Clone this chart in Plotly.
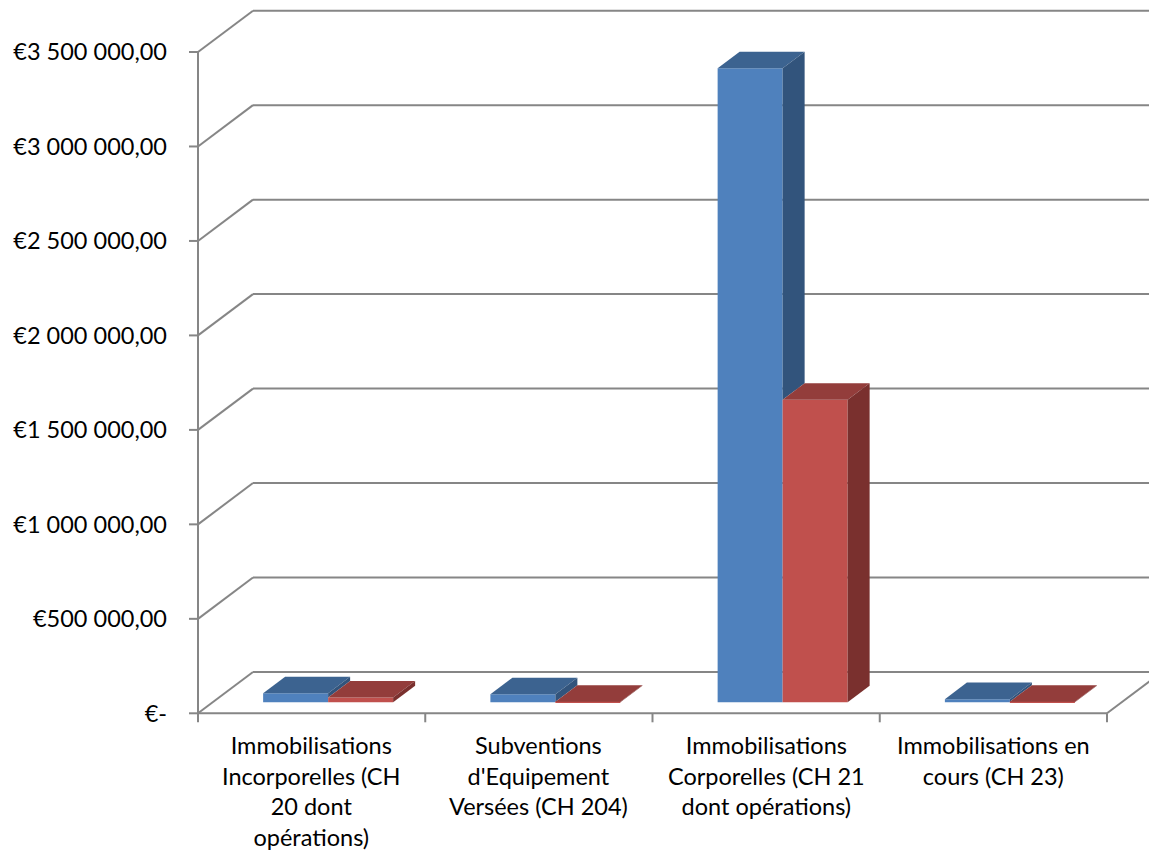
import plotly.graph_objects as go

# ---- data -------------------------------------------------------------
categories = [
    "Immobilisations<br>Incorporelles (CH<br>20 dont<br>opérations)",
    "Subventions<br>d'Equipement<br>Versées (CH 204)",
    "Immobilisations<br>Corporelles (CH 21<br>dont opérations)",
    "Immobilisations en<br>cours (CH 23)",
]
serie_1 = [47000, 42000, 3355000, 16000]
serie_2 = [24000, 1500, 1600000, 2500]
y_ticks = [0, 500000, 1000000, 1500000, 2000000, 2500000, 3000000, 3500000]
y_tick_text = ["€-", "€500 000,00", "€1 000 000,00", "€1 500 000,00",
               "€2 000 000,00", "€2 500 000,00", "€3 000 000,00", "€3 500 000,00"]

# ---- styling / projection settings -----------------------------------------
W_FIG, H_FIG = 1149, 859
LEFT = 180                 # left margin (px) for the value labels
X_ORIGIN_PX = 198          # pixel of the front-left wall corner
Y_ZERO_PX = 713.3          # pixel of the front floor edge
PX_PER_CAT = 227.25
PX_PER_VAL = 661.3 / 3.5e6

DX = 55 / PX_PER_CAT       # oblique depth of the floor, x units
DY = 41.3 / PX_PER_VAL     # oblique depth of the floor, value units
BAR_W = 65 / PX_PER_CAT
BAR_DX = 0.4 * DX
BAR_DY = 0.4 * DY
BAR_SHIFT = 0.3 * DX
BAR_BASE = 0.27 * DY

GRID = "#868686"
FONT = "Lato"
series_colors = [
    dict(front="#4F81BD", top="#3C6390", side="#32547C"),
    dict(front="#C0504D", top="#933D3B", side="#7A302E"),
]

x_lo = -0.5 - (X_ORIGIN_PX - LEFT) / PX_PER_CAT
x_hi = -0.5 + (W_FIG - X_ORIGIN_PX) / PX_PER_CAT
y_hi = Y_ZERO_PX / PX_PER_VAL
y_lo = -(H_FIG - Y_ZERO_PX) / PX_PER_VAL

n = len(categories)
fig = go.Figure()

# ---- walls, floor and tick marks (drawn under the bars) ----------------
shapes = []


def seg(x0, y0, x1, y1):
    shapes.append(dict(type="line", xref="x", yref="y", x0=x0, y0=y0, x1=x1, y1=y1,
                       line=dict(color=GRID, width=2), layer="below"))


left = -0.5
right = n - 0.5
tick_len_x = 9 / PX_PER_CAT
tick_len_y = 9 / PX_PER_VAL
for v in y_ticks:
    seg(left, v, left + DX, v + DY)                 # side wall
    seg(left + DX, v + DY, right + DX + 1, v + DY)   # back wall
    seg(left - tick_len_x, v, left, v)              # value tick
seg(left, 0, left, y_ticks[-1])                     # front vertical edge
seg(left, 0, right, 0)                              # front floor edge
seg(right, 0, right + DX, DY)                       # right floor edge
for k in range(n + 1):
    seg(left + k, 0, left + k, -tick_len_y)         # category ticks

# ---- bars -------------------------------------------------------------
series = [serie_1, serie_2]
for j, vals in enumerate(series):
    xs = [i + BAR_SHIFT + (j - 0.5) * BAR_W for i in range(n)]
    fig.add_trace(go.Bar(
        x=xs, y=vals, base=[BAR_BASE] * n, width=BAR_W,
        marker=dict(color=series_colors[j]["front"], line=dict(width=0)),
        name=f"Série {j + 1}", hoverinfo="skip",
    ))


def poly(pts_x, pts_y, color):
    fig.add_trace(go.Scatter(x=pts_x, y=pts_y, mode="lines", fill="toself",
                             fillcolor=color, line=dict(width=0, color=color),
                             hoverinfo="skip", showlegend=False))


for i in range(n):
    for j, vals in enumerate(series):
        v = vals[i]
        xl = i + BAR_SHIFT + (j - 1) * BAR_W
        xr = xl + BAR_W
        b = BAR_BASE
        top = b + v
        # top face
        poly([xl, xr, xr + BAR_DX, xl + BAR_DX, xl],
             [top, top, top + BAR_DY, top + BAR_DY, top],
             series_colors[j]["top"])
        # right side face; the first bar's side is hidden below the next bar's top
        low = b
        if j + 1 < len(series):
            low = b + max(series[j + 1][i], 0)
        if top > low:
            poly([xr, xr, xr + BAR_DX, xr + BAR_DX, xr],
                 [low, top, top + BAR_DY, low + BAR_DY, low],
                 series_colors[j]["side"])

# ---- category labels --------------------------------------------------
annotations = []
for i, c in enumerate(categories):
    annotations.append(dict(
        x=i, y=-(729 - Y_ZERO_PX) / PX_PER_VAL, xref="x", yref="y",
        text=c, showarrow=False, xanchor="center", yanchor="top",
        align="center", font=dict(family=FONT, size=23.5, color="#000000"),
    ))

fig.update_layout(
    width=W_FIG, height=H_FIG,
    margin=dict(l=LEFT, r=0, t=0, b=0),
    paper_bgcolor="white", plot_bgcolor="white",
    barmode="overlay", showlegend=False,
    shapes=shapes, annotations=annotations,
    font=dict(family=FONT, size=23.5, color="#000000"),
    xaxis=dict(range=[x_lo, x_hi], visible=False, fixedrange=True),
    yaxis=dict(range=[y_lo, y_hi], tickvals=y_ticks, ticktext=y_tick_text,
               ticks="", showgrid=False, zeroline=False, showline=False,
               ticklabelstandoff=12, fixedrange=True,
               tickfont=dict(family=FONT, size=23.5, color="#000000")),
)

fig.write_html("out.html", config={"displayModeBar": False})
